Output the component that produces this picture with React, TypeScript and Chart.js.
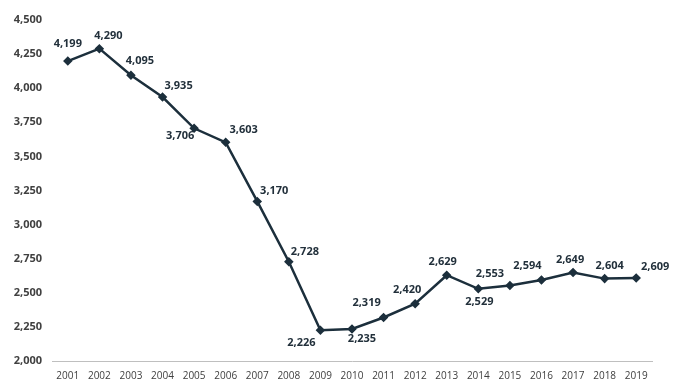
import React, { useEffect, useRef } from "react";
import { Chart, registerables } from "chart.js";

Chart.register(...registerables);

const years = ["2001","2002","2003","2004","2005","2006","2007","2008","2009","2010","2011","2012","2013","2014","2015","2016","2017","2018","2019"];
const values = [4199, 4290, 4095, 3935, 3706, 3603, 3170, 2728, 2226, 2235, 2319, 2420, 2629, 2529, 2553, 2594, 2649, 2604, 2609];
// label offsets (dx, dy) from each point, in px
const labelDx = [0, 9, 9, 16, -14, 18, 17, 16, -19, 10, -17, -8, -4, 1, -20, -14, -3, 5, 19];
const labelDy = [-17, -13, -14, -11, 8, -12, -11, -10, 13, 10, -15, -14, -13, 13, -12, -14, -13, -13, -11];

const LINE = "#1c2f3c";
const FONT = "'Open Sans', 'DejaVu Sans', sans-serif";

const labelPlugin = {
  id: "pointLabels",
  afterDatasetsDraw(chart: any) {
    const ctx = chart.ctx;
    const meta = chart.getDatasetMeta(0);
    ctx.save();
    ctx.font = `bold 11px ${FONT}`;
    ctx.fillStyle = "#22303b";
    ctx.textAlign = "center";
    ctx.textBaseline = "middle";
    meta.data.forEach((pt: any, i: number) => {
      const txt = values[i].toLocaleString("en-US");
      ctx.fillText(txt, pt.x + labelDx[i], pt.y + labelDy[i]);
    });
    ctx.restore();
  },
};

export default function App() {
  const ref = useRef<HTMLCanvasElement>(null);
  useEffect(() => {
    document.body.style.margin = "0";
    const chart = new Chart(ref.current!, {
      type: "line",
      data: {
        labels: years,
        datasets: [
          {
            data: values,
            borderColor: LINE,
            backgroundColor: LINE,
            borderWidth: 2.5,
            pointStyle: "rectRot",
            pointRadius: 3,
            pointBackgroundColor: LINE,
            pointBorderColor: LINE,
            tension: 0,
          },
        ],
      },
      options: {
        animation: false,
        responsive: false,
        maintainAspectRatio: false,
        layout: { padding: { top: 20, right: 22, bottom: 0, left: 0 } },
        plugins: { legend: { display: false }, tooltip: { enabled: false } },
        scales: {
          x: {
            offset: true,
            grid: { display: false, drawTicks: false },
            border: { display: true, color: "#bfbfbf", width: 1 },
            ticks: { color: "#404040", font: { family: FONT, size: 10 }, padding: 9, maxRotation: 0 },
            afterFit: (s: any) => { s.height = 29; },
          },
          y: {
            min: 2000,
            max: 4500,
            grid: { display: false, drawTicks: false },
            border: { display: false },
            ticks: {
              stepSize: 250,
              color: "#404040",
              font: { family: FONT, size: 11, weight: "bold" },
              padding: 10,
              callback: (v: any) => Number(v).toLocaleString("en-US"),
            },
            afterFit: (s: any) => { s.width = 52; },
          },
        },
      },
      plugins: [labelPlugin],
    });
    return () => chart.destroy();
  }, []);
  return (
    <div style={{ width: 674, height: 390 }}>
      <canvas ref={ref} width={674} height={390} style={{ display: "block" }} />
    </div>
  );
}
